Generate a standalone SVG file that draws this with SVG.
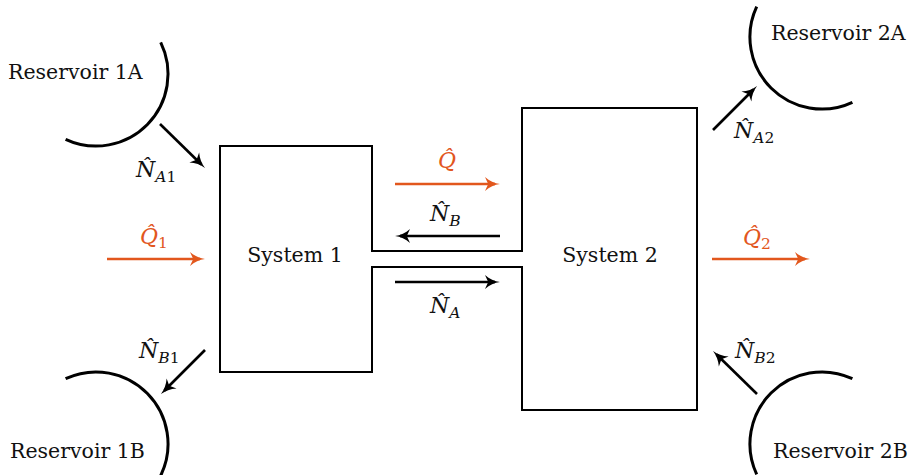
<svg xmlns="http://www.w3.org/2000/svg" width="910" height="475" viewBox="0 0 910 475">
<style>
  .outline{fill:none;stroke:#000;stroke-width:2;stroke-linejoin:miter}
  .res{fill:none;stroke:#000;stroke-width:3}
  .arr{fill:none;stroke:#000;stroke-width:2.6}
  .arrq{fill:none;stroke:#E2571D;stroke-width:2.6}
  .lbl{font-family:"DejaVu Serif","Liberation Serif",serif;font-size:20.5px;fill:#111}
  .m{font-family:"DejaVu Serif","Liberation Serif",serif;font-size:22px;fill:#111}
  .mq{fill:#E2571D}
  .it{font-style:italic}
  .sub{font-size:15.5px}
</style>
<defs>
  <marker id="ah" markerUnits="userSpaceOnUse" markerWidth="16" markerHeight="15" refX="10" refY="7" orient="auto" viewBox="0 0 16 14">
    <path d="M0,0 C4.5,4 9.5,6.2 15,7 C9.5,7.8 4.5,10 0,14 L3.2,7 Z" fill="#000"/>
  </marker>
  <marker id="ahq" markerUnits="userSpaceOnUse" markerWidth="16" markerHeight="15" refX="10" refY="7" orient="auto" viewBox="0 0 16 14">
    <path d="M0,0 C4.5,4 9.5,6.2 15,7 C9.5,7.8 4.5,10 0,14 L3.2,7 Z" fill="#E2571D"/>
  </marker>
</defs>

<g id="systems">
  <path class="outline" d="M220,146 H372 V251 H522 V108 H697 V410 H522 V267 H372 V372 H220 Z"/>
</g>
<g id="system1"><text class="lbl" x="295" y="262" text-anchor="middle">System 1</text></g>
<g id="system2"><text class="lbl" x="610" y="262" text-anchor="middle">System 2</text></g>

<g id="reservoir1A">
  <path class="res" d="M160.7,42.4 A72,72 0 0 1 65.6,139.3"/>
  <text class="lbl" x="8" y="79">Reservoir 1A</text>
</g>
<g id="reservoir1B">
  <path class="res" d="M65.6,378.7 A72,72 0 0 1 160.7,475.6"/>
  <text class="lbl" x="10" y="458">Reservoir 1B</text>
</g>
<g id="reservoir2A">
  <path class="res" d="M756.7,6.6 A72,72 0 0 0 852.4,102.3"/>
  <text class="lbl" x="771" y="40">Reservoir 2A</text>
</g>
<g id="reservoir2B">
  <path class="res" d="M852.4,378.7 A72,72 0 0 0 756.7,474.4"/>
  <text class="lbl" x="773" y="458">Reservoir 2B</text>
</g>

<g id="connectors">
  <line class="arr" x1="160" y1="124" x2="201.4" y2="164.5" marker-end="url(#ah)"/>
  <line class="arr" x1="205" y1="350" x2="164.5" y2="390.5" marker-end="url(#ah)"/>
  <line class="arr" x1="713" y1="130" x2="753.5" y2="89.5" marker-end="url(#ah)"/>
  <line class="arr" x1="757" y1="394" x2="716.6" y2="354.5" marker-end="url(#ah)"/>
  <line class="arrq" x1="395" y1="184" x2="495" y2="184" marker-end="url(#ahq)"/>
  <line class="arr" x1="500" y1="236" x2="400" y2="236" marker-end="url(#ah)"/>
  <line class="arr" x1="395" y1="282" x2="495" y2="282" marker-end="url(#ah)"/>
  <line class="arrq" x1="107" y1="259" x2="200" y2="259" marker-end="url(#ahq)"/>
  <line class="arrq" x1="712" y1="259" x2="805" y2="259" marker-end="url(#ahq)"/>
</g>

<g id="labels">
  <text class="m" x="136" y="177"><tspan class="it">N̂</tspan><tspan class="sub it" dy="5">A</tspan><tspan class="sub">1</tspan></text>
  <text class="m" x="139" y="358"><tspan class="it">N̂</tspan><tspan class="sub it" dy="5">B</tspan><tspan class="sub">1</tspan></text>
  <text class="m" x="734" y="138"><tspan class="it">N̂</tspan><tspan class="sub it" dy="5">A</tspan><tspan class="sub">2</tspan></text>
  <text class="m" x="735" y="358"><tspan class="it">N̂</tspan><tspan class="sub it" dy="5">B</tspan><tspan class="sub">2</tspan></text>
  <text class="m mq" x="447" y="168" text-anchor="middle"><tspan class="it">Q̂</tspan></text>
  <text class="m" x="430" y="221"><tspan class="it">N̂</tspan><tspan class="sub it" dy="5">B</tspan></text>
  <text class="m" x="430" y="313"><tspan class="it">N̂</tspan><tspan class="sub it" dy="5">A</tspan></text>
  <text class="m mq" x="140" y="244"><tspan class="it">Q̂</tspan><tspan class="sub" dy="4">1</tspan></text>
  <text class="m mq" x="743" y="245"><tspan class="it">Q̂</tspan><tspan class="sub" dy="4">2</tspan></text>
</g>
</svg>
